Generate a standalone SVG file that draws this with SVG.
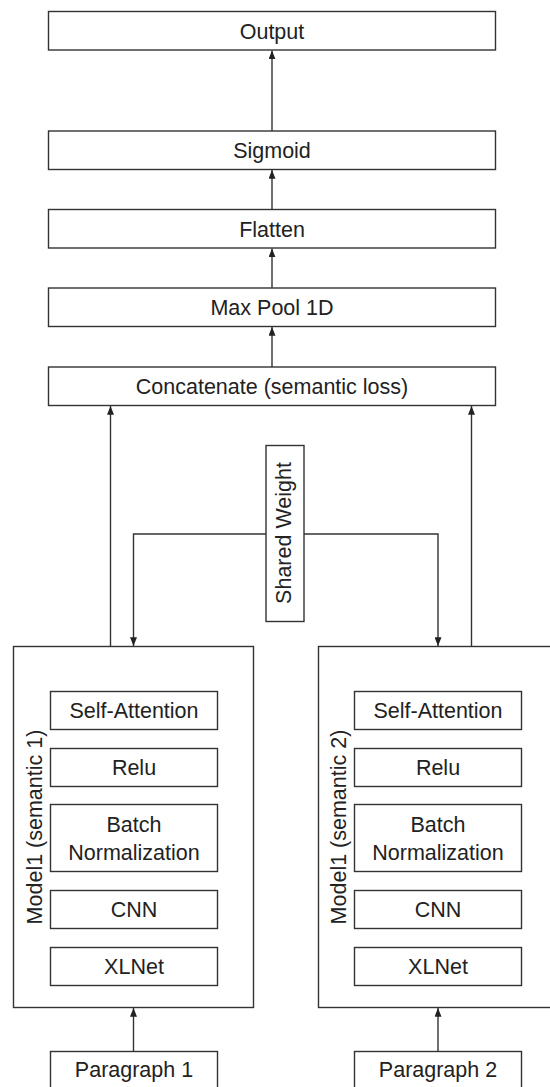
<svg xmlns="http://www.w3.org/2000/svg" width="550" height="1087" viewBox="0 0 550 1087">
<style>
.box{fill:#fff;stroke:#333;stroke-width:1.4}
.lbl{font-family:"Liberation Sans",Arial,sans-serif;font-size:21.5px;fill:#222;text-anchor:middle}
.con{fill:none;stroke:#333;stroke-width:1.4}
</style>
<defs>
<marker id="ah" viewBox="0 0 10 8" refX="10" refY="4" markerWidth="9" markerHeight="7" markerUnits="userSpaceOnUse" orient="auto">
<path d="M0,0 L10,4 L0,8 z" fill="#222"/>
</marker>
</defs>
<rect width="550" height="1087" fill="#fff"/>
<g id="connectors">
<line class="con" x1="272" y1="131" x2="272" y2="50.5" marker-end="url(#ah)"/>
<line class="con" x1="272" y1="209.5" x2="272" y2="170" marker-end="url(#ah)"/>
<line class="con" x1="272" y1="288" x2="272" y2="248.5" marker-end="url(#ah)"/>
<line class="con" x1="272" y1="367" x2="272" y2="327" marker-end="url(#ah)"/>
<line class="con" x1="110.5" y1="646.5" x2="110.5" y2="406" marker-end="url(#ah)"/>
<line class="con" x1="471.5" y1="646.5" x2="471.5" y2="406" marker-end="url(#ah)"/>
<path class="con" d="M266,534 H133.5 V646" marker-end="url(#ah)"/>
<path class="con" d="M304,534 H438 V646" marker-end="url(#ah)"/>
<line class="con" x1="133.5" y1="1051.5" x2="133.5" y2="1008" marker-end="url(#ah)"/>
<line class="con" x1="438" y1="1051.5" x2="438" y2="1008" marker-end="url(#ah)"/>
</g>
<g id="output"><rect class="box" x="48.5" y="11.5" width="447" height="38.5"/><text class="lbl" x="272" y="38.5">Output</text></g>
<g id="sigmoid"><rect class="box" x="48.5" y="131" width="447" height="38.5"/><text class="lbl" x="272" y="158">Sigmoid</text></g>
<g id="flatten"><rect class="box" x="48.5" y="209.5" width="447" height="38.5"/><text class="lbl" x="272" y="236.5">Flatten</text></g>
<g id="maxpool"><rect class="box" x="48.5" y="288" width="447" height="38.5"/><text class="lbl" x="272" y="315">Max Pool 1D</text></g>
<g id="concatenate"><rect class="box" x="48.5" y="367" width="447" height="38.5"/><text class="lbl" x="272" y="394">Concatenate (semantic loss)</text></g>
<g id="shared-weight"><rect class="box" x="266" y="445.5" width="38" height="176"/><text class="lbl" transform="translate(290.5,533) rotate(-90)">Shared Weight</text></g>
<g id="model1">
<rect class="box" x="13.5" y="646.5" width="240" height="361"/>
<text class="lbl" transform="translate(41.5,827) rotate(-90)">Model1 (semantic 1)</text>
<g id="m1-selfatt"><rect class="box" x="50.5" y="691.5" width="167" height="38"/><text class="lbl" x="134" y="718.3">Self-Attention</text></g>
<g id="m1-relu"><rect class="box" x="50.5" y="748.5" width="167" height="38"/><text class="lbl" x="134" y="775.3">Relu</text></g>
<g id="m1-bn"><rect class="box" x="50.5" y="804.5" width="167" height="67"/><text class="lbl" x="134" y="831.5">Batch</text><text class="lbl" x="134" y="860">Normalization</text></g>
<g id="m1-cnn"><rect class="box" x="50.5" y="890.5" width="167" height="38"/><text class="lbl" x="134" y="917.3">CNN</text></g>
<g id="m1-xlnet"><rect class="box" x="50.5" y="947.5" width="167" height="38"/><text class="lbl" x="134" y="974.3">XLNet</text></g>
</g>
<g id="model2">
<rect class="box" x="318.5" y="646.5" width="240" height="361"/>
<text class="lbl" transform="translate(346,827) rotate(-90)">Model1 (semantic 2)</text>
<g id="m2-selfatt"><rect class="box" x="354.5" y="691.5" width="167" height="38"/><text class="lbl" x="438" y="718.3">Self-Attention</text></g>
<g id="m2-relu"><rect class="box" x="354.5" y="748.5" width="167" height="38"/><text class="lbl" x="438" y="775.3">Relu</text></g>
<g id="m2-bn"><rect class="box" x="354.5" y="804.5" width="167" height="67"/><text class="lbl" x="438" y="831.5">Batch</text><text class="lbl" x="438" y="860">Normalization</text></g>
<g id="m2-cnn"><rect class="box" x="354.5" y="890.5" width="167" height="38"/><text class="lbl" x="438" y="917.3">CNN</text></g>
<g id="m2-xlnet"><rect class="box" x="354.5" y="947.5" width="167" height="38"/><text class="lbl" x="438" y="974.3">XLNet</text></g>
</g>
<g id="paragraph1"><rect class="box" x="50.5" y="1051.5" width="167" height="40"/><text class="lbl" x="134" y="1077">Paragraph 1</text></g>
<g id="paragraph2"><rect class="box" x="354.5" y="1051.5" width="167" height="40"/><text class="lbl" x="438" y="1077">Paragraph 2</text></g>
</svg>
